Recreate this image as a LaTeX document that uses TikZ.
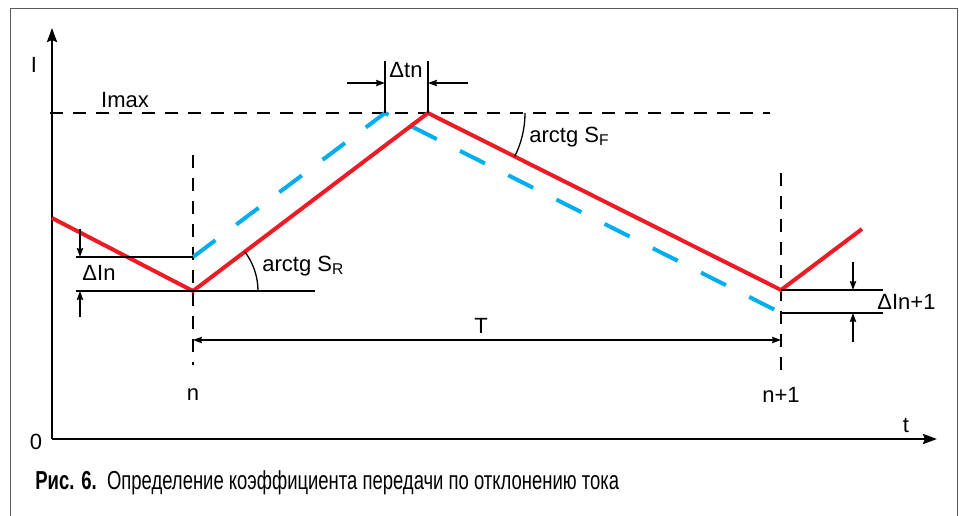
\documentclass[tikz,border=0pt]{standalone}
\usepackage{fontspec}
\setmainfont{Liberation Sans}
\newfontfamily\capfont[FakeStretch=0.71]{Liberation Sans}
\usetikzlibrary{arrows.meta}
\definecolor{curvered}{RGB}{237,28,36}
\definecolor{curveblue}{RGB}{0,174,239}
\definecolor{framegray}{RGB}{90,90,90}
\newcommand{\subsc}[1]{\raisebox{-0.15em}{\fontsize{7.8}{8}\selectfont #1}}

\begin{document}
\begin{tikzpicture}[x=0.5pt,y=-0.5pt,
        axis/.style={line width=1.25pt, -{Stealth[length=7pt,width=5pt,inset=1pt]}},
        dimline/.style={line width=0.65pt},
        dimarrow/.style={dimline, -{Stealth[length=4.5pt,width=3.2pt,inset=0.6pt]}},
        guide/.style={line width=0.75pt, dash pattern=on 6.5pt off 5pt},
        redcurve/.style={curvered, line width=2pt},
        bluecurve/.style={curveblue, line width=2pt, dash pattern=on 14pt off 13pt},
        lbl/.style={font=\fontsize{11}{13}\selectfont, inner sep=0pt}
    ]
        \useasboundingbox (0,0) rectangle (959,515);
        % Frame
        \draw[framegray, line width=0.5pt] (10,525) -- (10,8) -- (957,8) -- (957,525);

        % Key points
        \coordinate (o) at (52,439);
        \coordinate (start) at (52,218);
        \coordinate (nlow) at (193,291);
        \coordinate (nblue) at (193,257);
        \coordinate (peak) at (428,113);
        \coordinate (peakblue) at (385,113);
        \coordinate (mlow) at (781,290);
        \coordinate (mblue) at (781,313);
        \coordinate (finish) at (862,229);

        % Axes
        \draw[axis] (o) -- (52,28);
        \draw[axis] (o) -- (937,439);
        \node[lbl] (ilbl) at (34,65) {I};
        \node[lbl] (zero) at (36,442) {0};
        \node[lbl] (tlbl) at (906,425) {t};

        % Guide lines
        \draw[guide] (50,113) -- (770,113);
        \node[lbl] (imax) at (125,100) {Imax};
        \draw[guide] (193,155) -- (193,365);
        \draw[guide] (781,173) -- (781,375);
        \node[lbl] (n) at (193,395) {n};
        \node[lbl] (n1) at (781,395) {n+1};

        % Curves
        \draw[bluecurve] (nblue) -- (peakblue) -- (mblue);
        \draw[redcurve, line join=miter] (start) -- (nlow) -- (peak) -- (mlow) -- (finish);

        % Delta In
        \draw[dimline] (76,257) -- (nblue);
        \draw[dimline] (76,291) -- (315,291);
        \draw[dimarrow] (80,229) -- (80,257);
        \draw[dimarrow] (80,317) -- (80,291);
        \node[lbl] (din) at (99,273) {ΔIn};

        % Angles
        \draw[dimline] (258,291) arc[start angle=0, end angle=-37.1, radius=65];
        \node[lbl, anchor=west] (sr) at (262,266) {arctg S\subsc{R}};
        \draw[dimline] (525,113) arc[start angle=0, end angle=26.6, radius=97];
        \node[lbl, anchor=west] (sf) at (529,137) {arctg S\subsc{F}};

        % Delta tn
        \draw[dimline] (peakblue) -- (385,61);
        \draw[dimline] (peak) -- (428,61);
        \draw[dimarrow] (347,83) -- (385,83);
        \draw[dimarrow] (468,83) -- (428,83);
        \node[lbl] (dtn) at (406,70) {Δtn};

        % Period T
        \draw[dimline, {Stealth[length=4.5pt,width=3.2pt,inset=0.6pt]}-{Stealth[length=4.5pt,width=3.2pt,inset=0.6pt]}] (193,340) -- (781,340);
        \node[lbl] (per) at (481,326) {T};

        % Delta In+1
        \draw[dimline] (mlow) -- (883,290);
        \draw[dimline] (mblue) -- (883,313);
        \draw[dimarrow] (853,262) -- (853,290);
        \draw[dimarrow] (853,342) -- (853,313);
        \node[lbl, anchor=west] (din1) at (877,302) {ΔIn+1};

        % Caption
        \node[anchor=west, inner sep=0pt, font=\capfont\fontsize{13}{15}\selectfont] (cap) at (35,483)
            {\textbf{Рис. 6.}\hspace{0.4em}Определение коэффициента передачи по отклонению тока};
    \end{tikzpicture}
\end{document}
